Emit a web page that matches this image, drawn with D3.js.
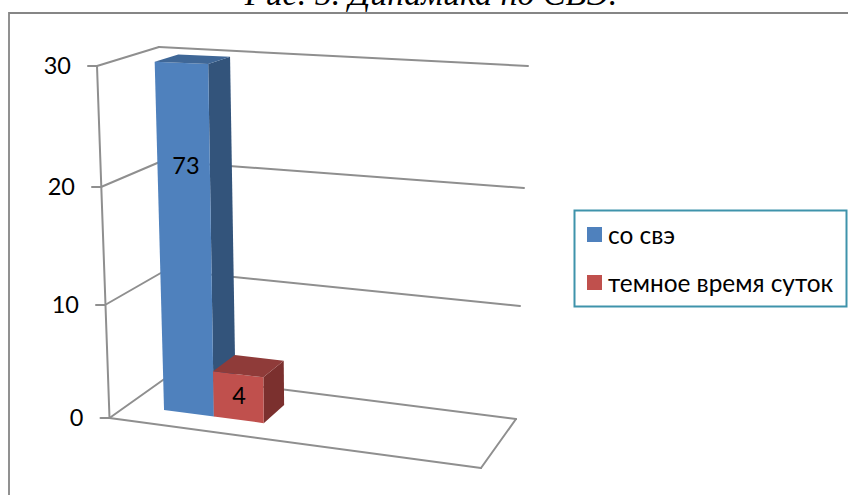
<!DOCTYPE html>
<html><head><meta charset="utf-8">
<style>html,body{margin:0;padding:0;background:#fff}svg{display:block}
text{font-family:Lato,"Open Sans","Noto Sans",sans-serif}</style>
<script src="https://cdn.jsdelivr.net/npm/d3@7/dist/d3.min.js"></script>
</head><body><svg id="c" width="848" height="495"></svg>
<script>
const seriesNames = ["со свэ", "темное время суток"];
const seriesValues = [73, 4];
const seriesColors = ["#4f81bd", "#c0504d"];
const topColors = ["#3f6797", "#8f3b39"];
const sideColors = ["#33547b", "#7b302e"];
const yTicks = [0, 10, 20, 30];
const titleText = "Рис. 5. Динамика по СВЭ.";

const svg = d3.select("#c");
const W = 848, H = 495;

// Piecewise scales for the four corners of the 3D box (perspective)
const corner = (xs, ys) => ({
  x: d3.scaleLinear().domain(yTicks).range(xs).clamp(true),
  y: d3.scaleLinear().domain(yTicks).range(ys).clamp(true)
});
const FL = corner([109.5, 105, 101, 97], [418, 305, 187, 66]);
const BL = corner([170, 166, 162, 159], [375, 270, 161, 47]);
const BR = corner([516, 520, 524, 528], [419, 306, 188, 66]);
const FR = corner([481, 486, 491.5, 497], [468, 343, 213, 80]);

function project(u, d, v) {
  const lx = FL.x(v) + d * (BL.x(v) - FL.x(v)), ly = FL.y(v) + d * (BL.y(v) - FL.y(v));
  const rx = FR.x(v) + d * (BR.x(v) - FR.x(v)), ry = FR.y(v) + d * (BR.y(v) - FR.y(v));
  return [lx + u * (rx - lx), ly + u * (ry - ly)];
}
const uBand = d3.scaleBand().domain(seriesNames).range([0.1, 0.374]);
const dNear = 0.3, dFar = 0.7;

// title (cut by the top of the picture in the reference as well)
svg.append("text").attr("x", 431).attr("y", 5).attr("text-anchor", "middle")
  .style("font-family", "'Liberation Serif',serif").style("font-style", "italic")
  .attr("font-size", 34).attr("fill", "#000").text(titleText);

// chart frame (open to the right and below)
const frame = d3.path();
frame.moveTo(W, 13); frame.lineTo(9, 13); frame.lineTo(9, H);
svg.append("path").attr("d", frame.toString()).attr("fill", "none")
  .attr("stroke", "#868686").attr("stroke-width", 1.8);

const grey = "#8f8f8f";
const line = (a, b) => svg.append("line").attr("x1", a[0]).attr("y1", a[1]).attr("x2", b[0]).attr("y2", b[1])
  .attr("stroke", grey).attr("stroke-width", 2).attr("stroke-linecap", "round");

yTicks.forEach(t => {
  const f = [FL.x(t), FL.y(t)], b = [BL.x(t), BL.y(t)], r = [BR.x(t), BR.y(t)];
  line([f[0] - 9, f[1]], f);
  line(f, b);
  line(b, r);
  svg.append("text").attr("x", f[0] - 26).attr("y", f[1]).attr("dy", "0.35em")
    .attr("text-anchor", "end").attr("font-size", 23.5).attr("fill", "#000").text(t);
});
line([FL.x(0), FL.y(0)], [FL.x(30), FL.y(30)]);
line([FL.x(0), FL.y(0)], [FR.x(0), FR.y(0)]);
line([FR.x(0), FR.y(0)], [BR.x(0), BR.y(0)]);

// bars
const poly = pts => pts.map(p => p.join(",")).join(" ");
const bars = seriesNames.map((n, i) => ({ n, i, v: seriesValues[i] }));
const g = svg.selectAll("g.bar").data(bars).join("g").attr("class", "bar");
g.each(function (d) {
  const u0 = uBand(d.n), u1 = u0 + uBand.bandwidth();
  const sel = d3.select(this);
  sel.append("polygon").attr("fill", sideColors[d.i]).attr("points", poly([
    project(u1, dNear, 0), project(u1, dFar, 0), project(u1, dFar, d.v), project(u1, dNear, d.v)]));
  sel.append("polygon").attr("fill", seriesColors[d.i]).attr("points", poly([
    project(u0, dNear, 0), project(u1, dNear, 0), project(u1, dNear, d.v), project(u0, dNear, d.v)]));
  sel.append("polygon").attr("fill", topColors[d.i]).attr("points", poly([
    project(u0, dNear, d.v), project(u1, dNear, d.v), project(u1, dFar, d.v), project(u0, dFar, d.v)]));
});
// data labels
svg.append("text").attr("x", 186).attr("y", 166).attr("dy", "0.35em").attr("text-anchor", "middle")
  .attr("font-size", 23.5).text(seriesValues[0]);
svg.append("text").attr("x", 239).attr("y", 396).attr("dy", "0.35em").attr("text-anchor", "middle")
  .attr("font-size", 23.5).text(seriesValues[1]);

// legend
const lx = 574.5, ly = 210.5;
svg.append("rect").attr("x", lx).attr("y", ly).attr("width", 272).attr("height", 96)
  .attr("fill", "#fff").attr("stroke", "#3f93ab").attr("stroke-width", 2);
const li = svg.selectAll("g.li").data(seriesNames).join("g").attr("class", "li")
  .attr("transform", (d, i) => `translate(587,${227 + i * 48})`);
li.append("rect").attr("width", 15).attr("height", 15).attr("fill", (d, i) => seriesColors[i]);
li.append("text").attr("x", 21).attr("y", 8).attr("dy", "0.35em").attr("font-size", 24.4).text(d => d);
</script></body></html>
